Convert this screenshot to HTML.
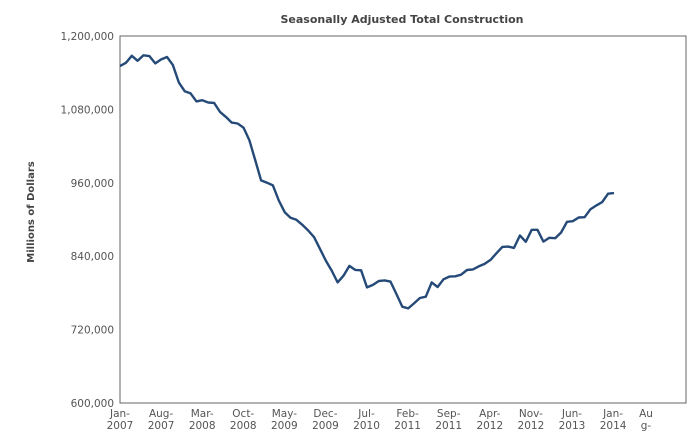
<!DOCTYPE html>
<html><head><meta charset="utf-8"><style>
body{margin:0;background:#fff;}
svg text{font-family:"DejaVu Sans","Liberation Sans",sans-serif;}
</style></head><body>
<svg id="chart" width="695" height="434" xmlns="http://www.w3.org/2000/svg">
<text x="402" y="23" text-anchor="middle" font-size="11" font-weight="bold" fill="#444">Seasonally Adjusted Total Construction</text>
<text transform="translate(34,212) rotate(-90)" text-anchor="middle" font-size="10" font-weight="bold" fill="#444">Millions of Dollars</text>
<rect x="120" y="36" width="566" height="367" fill="none" stroke="#666" stroke-width="1"/>
<g id="yticks"></g><g id="xticks"></g>
<path id="line" fill="none" stroke="#254a78" stroke-width="2.4" stroke-linejoin="round"/>
</svg>
<script>
const values=[1150800,1156200,1167700,1159500,1168400,1167200,1155200,1161800,1165600,1152500,1124100,1109800,1106100,1093000,1095100,1091300,1090700,1075900,1067700,1058500,1056900,1050300,1029500,996700,963900,960200,955700,931100,911900,902800,899500,891300,882000,871000,851900,832800,816400,797200,808200,824100,817600,816900,789000,793000,799500,800500,798400,778200,757400,754600,762800,771600,773800,797200,789700,802200,806600,807100,809800,817500,818500,823400,827400,833900,844800,855200,855700,853600,873800,863500,883100,883100,863900,870000,869400,878700,896200,897200,903300,903700,916900,923000,928400,942100,943100];
const yTickValues=[600000,720000,840000,960000,1080000,1200000];
const yTickLabels=["600,000","720,000","840,000","960,000","1,080,000","1,200,000"];
const xTop=["Jan-","Aug-","Mar-","Oct-","May-","Dec-","Jul-","Feb-","Sep-","Apr-","Nov-","Jun-","Jan-","Au"];
const xBottom=["2007","2007","2008","2008","2009","2009","2010","2011","2011","2012","2012","2013","2014","g-"];
const xTickMonths=[0,7,14,21,28,35,42,49,56,63,70,77,84,91];
const NS="http://www.w3.org/2000/svg";
const yMin=600000,yMax=1200000,pTop=36,pBot=403,pLeft=120;
const yS=v=>pBot-(v-yMin)/(yMax-yMin)*(pBot-pTop);
const mStep=(614-pLeft)/(values.length-1);
const xS=i=>pLeft+i*mStep;
const yt=document.getElementById('yticks');
yTickValues.forEach((v,k)=>{const t=document.createElementNS(NS,'text');


t.setAttribute('x',114);t.setAttribute('y',yS(v)+4);t.setAttribute('text-anchor','end');t.setAttribute('font-size','10.5');t.setAttribute('fill','#555');t.textContent=yTickLabels[k];yt.appendChild(t);});
const xt=document.getElementById('xticks');
xTickMonths.forEach((m,k)=>{const x=pLeft+m*5.87;
[xTop[k],xBottom[k]].forEach((s,j)=>{const t=document.createElementNS(NS,'text');


t.setAttribute('x',k==13?646:x);t.setAttribute('y',417+j*12);t.setAttribute('text-anchor','middle');t.setAttribute('font-size','10.5');t.setAttribute('fill','#555');t.textContent=s;xt.appendChild(t);});});
document.getElementById('line').setAttribute('d',values.map((v,i)=>(i?'L':'M')+xS(i).toFixed(1)+','+yS(v).toFixed(1)).join(''));
</script>
</body></html>
